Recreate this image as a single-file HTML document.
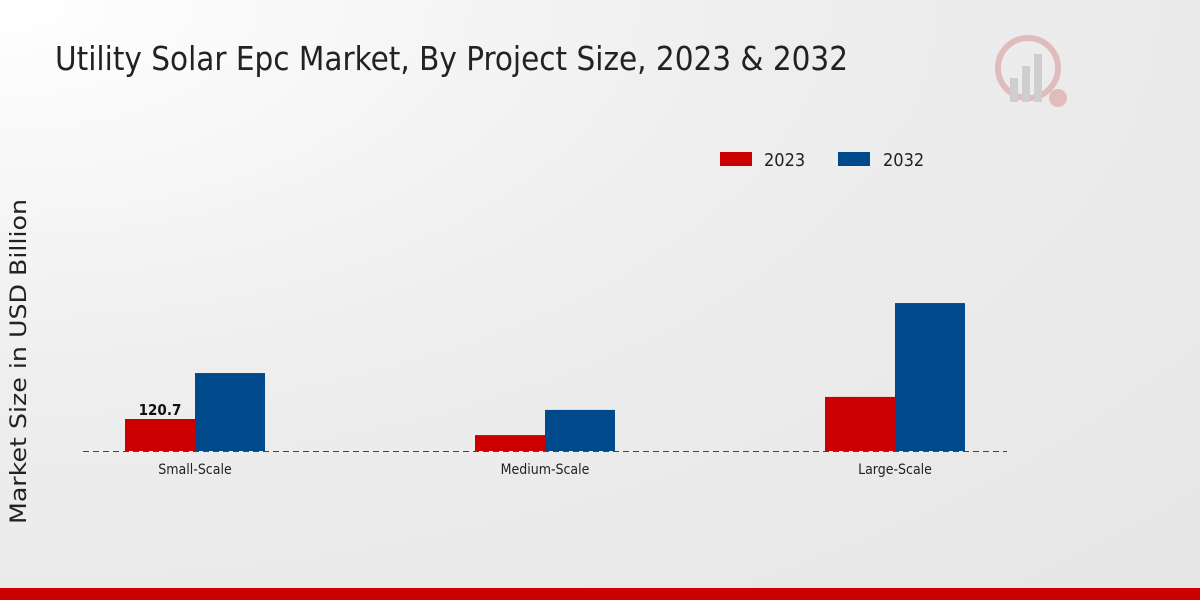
<!DOCTYPE html>
<html><head><meta charset="utf-8"><style>
html,body{margin:0;padding:0;width:1200px;height:600px;overflow:hidden}
body{background:radial-gradient(ellipse at 0% 0%,#ffffff 0%,#eeeeee 45%,#e6e6e6 100%);font-family:"DejaVu Sans Condensed","DejaVu Sans","Liberation Sans",sans-serif}
</style></head><body>
<svg id="chart" width="1200" height="600" style="position:absolute;left:0;top:0">
<text x="55" y="70" font-size="33" fill="#222" textLength="793" lengthAdjust="spacingAndGlyphs">Utility Solar Epc Market, By Project Size, 2023 &amp; 2032</text>
<g opacity="0.35">
<circle cx="1028" cy="68" r="30" fill="none" stroke="#c66" stroke-width="6"/>
<rect x="1010" y="78" width="8" height="24" fill="#999"/><rect x="1022" y="66" width="8" height="36" fill="#999"/><rect x="1034" y="54" width="8" height="48" fill="#999"/>
<circle cx="1058" cy="98" r="9" fill="#c66"/>
</g>
<g>
<rect x="720" y="152" width="32" height="14" fill="#cc0000"/>
<text x="764" y="166" font-size="18" fill="#222">2023</text>
<rect x="838" y="152" width="32" height="14" fill="#004a8c"/>
<text x="883" y="166" font-size="18" fill="#222">2032</text>
</g>
<text transform="translate(26,362) rotate(-90)" x="-162" y="0" font-size="22" fill="#222" font-family="DejaVu Sans, sans-serif" textLength="325" lengthAdjust="spacingAndGlyphs">Market Size in USD Billion</text>
<g id="bars"></g>
<line x1="83" y1="451.5" x2="1007" y2="451.5" stroke="#444" stroke-dasharray="6,4"/>
<rect x="0" y="588" width="1200" height="12" fill="#cc0000"/>
</svg>
<script>
const categories=["Small-Scale","Medium-Scale","Large-Scale"];
const values2023=[120.7,60,204];
const values2032=[294,155,558];
const labels2023=["120.7","",""];
const svg=document.getElementById('bars');
const NS="http://www.w3.org/2000/svg";
const baseY=451, pxPer=32/120.7;
function xCenter(i){return 195+i*350;}
function yH(v){return v*pxPer;}
function mk(tag,attrs){const e=document.createElementNS(NS,tag);for(const k in attrs)e.setAttribute(k,attrs[k]);svg.appendChild(e);return e;}
categories.forEach((c,i)=>{
  const cx=xCenter(i);
  const h1=yH(values2023[i]);
  const r1=mk('rect',{x:cx-70,y:baseY-h1,width:70,height:h1,fill:'#cc0000'});
  
  
  const h2=yH(values2032[i]);
  const r2=mk('rect',{x:cx,y:baseY-h2,width:70,height:h2,fill:'#004a8c'});
  
  
  const t=mk('text',{x:cx,y:474,'text-anchor':'middle','font-size':14,fill:'#222'});
  t.textContent=c;
  
  
  if(labels2023[i]){
    const v=mk('text',{x:cx-35,y:baseY-h1-4,'text-anchor':'middle','font-size':15,'font-weight':'bold',fill:'#111'});
    v.textContent=labels2023[i];
    
    
  }
});
</script>
</body></html>
